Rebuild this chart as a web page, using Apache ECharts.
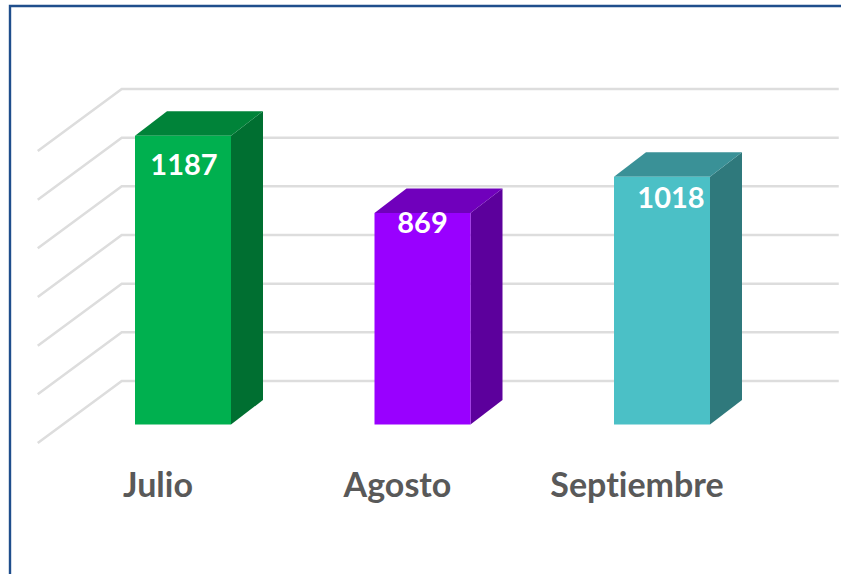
<!DOCTYPE html>
<html><head><meta charset="utf-8">
<style>html,body{margin:0;padding:0;background:#fff}#c{width:841px;height:574px}#c text{font-variant-ligatures:none}</style>
<script src="https://cdn.jsdelivr.net/npm/echarts@6/dist/echarts.min.js"></script>
</head><body><div id="c"></div>
<script>
const categories = ['Julio', 'Agosto', 'Septiembre'];
const values = [1187, 869, 1018];
const yTicks = [0, 200, 400, 600, 800, 1000, 1200];
const faceColors = ['#00B04F', '#9900FF', '#4BC0C6'];
const topColors = ['#008339', '#7000BC', '#3A9197'];
const sideColors = ['#006F31', '#5C009C', '#2F797C'];
const labelShift = [[1, 28], [0, 8], [9, 20]];

const BAR_W = 96, DX = 32, DY = 24.5;
const chart = echarts.init(document.getElementById('c'), null, {renderer: 'svg'});
chart.setOption({
  animation: false,
  backgroundColor: '#fff',
  graphic: [{type: 'rect', shape: {x: 10, y: 6, width: 860, height: 600},
    style: {fill: 'none', stroke: '#1F4E8C', lineWidth: 2.4}, silent: true, z: 100}],
  grid: {left: 63.25, width: 718.5, top: 132.5, height: 292},
  xAxis: {type: 'category', data: categories,
    axisLine: {show: false}, axisTick: {show: false}, splitLine: {show: false},
    axisLabel: {color: '#595959', fontFamily: 'Lato', fontWeight: 'bold', fontSize: 34,
      margin: 42, padding: [0, 50, 0, 0], interval: 0}},
  yAxis: {type: 'value', min: 0, max: 1200, interval: 200, show: false},
  series: [
    {type: 'custom', clip: false, silent: true, z: 1, data: yTicks.map(v => [0, v]),
      renderItem(p, api) {
        const y = api.coord([0, api.value(1)])[1];
        const cs = p.coordSys;
        return {type: 'polyline', shape: {points: [
          [cs.x - 25.5, y + 18.5], [cs.x + 58.5, y - 43.5], [cs.x + cs.width + 57, y - 43.5]]},
          style: {fill: 'none', stroke: '#DDDDDD', lineWidth: 2.5}};
      }},
    {type: 'custom', clip: false, silent: true, z: 2,
      data: values.map((v, i) => [i, v]),
      renderItem(p, api) {
        const i = p.dataIndex;
        const t = api.coord([api.value(0), api.value(1)]);
        const b = api.coord([api.value(0), 0]);
        const l = t[0] - BAR_W / 2, r = t[0] + BAR_W / 2;
        return {type: 'group', children: [
          {type: 'polygon', shape: {points: [[r, t[1]], [r + DX, t[1] - DY], [r + DX, b[1] - DY], [r, b[1]]]},
            style: {fill: sideColors[i]}},
          {type: 'polygon', shape: {points: [[l, t[1]], [l + DX, t[1] - DY], [r + DX, t[1] - DY], [r, t[1]]]},
            style: {fill: topColors[i]}},
          {type: 'rect', shape: {x: l, y: t[1], width: BAR_W, height: b[1] - t[1]},
            style: {fill: faceColors[i]}},
          {type: 'text', x: t[0] + labelShift[i][0], y: t[1] + labelShift[i][1],
            style: {text: String(values[i]), fill: '#fff', fontFamily: 'Lato', fontWeight: 'bold',
              fontSize: 29, align: 'center', verticalAlign: 'middle'}}
        ]};
      }}
  ]
});
</script></body></html>
